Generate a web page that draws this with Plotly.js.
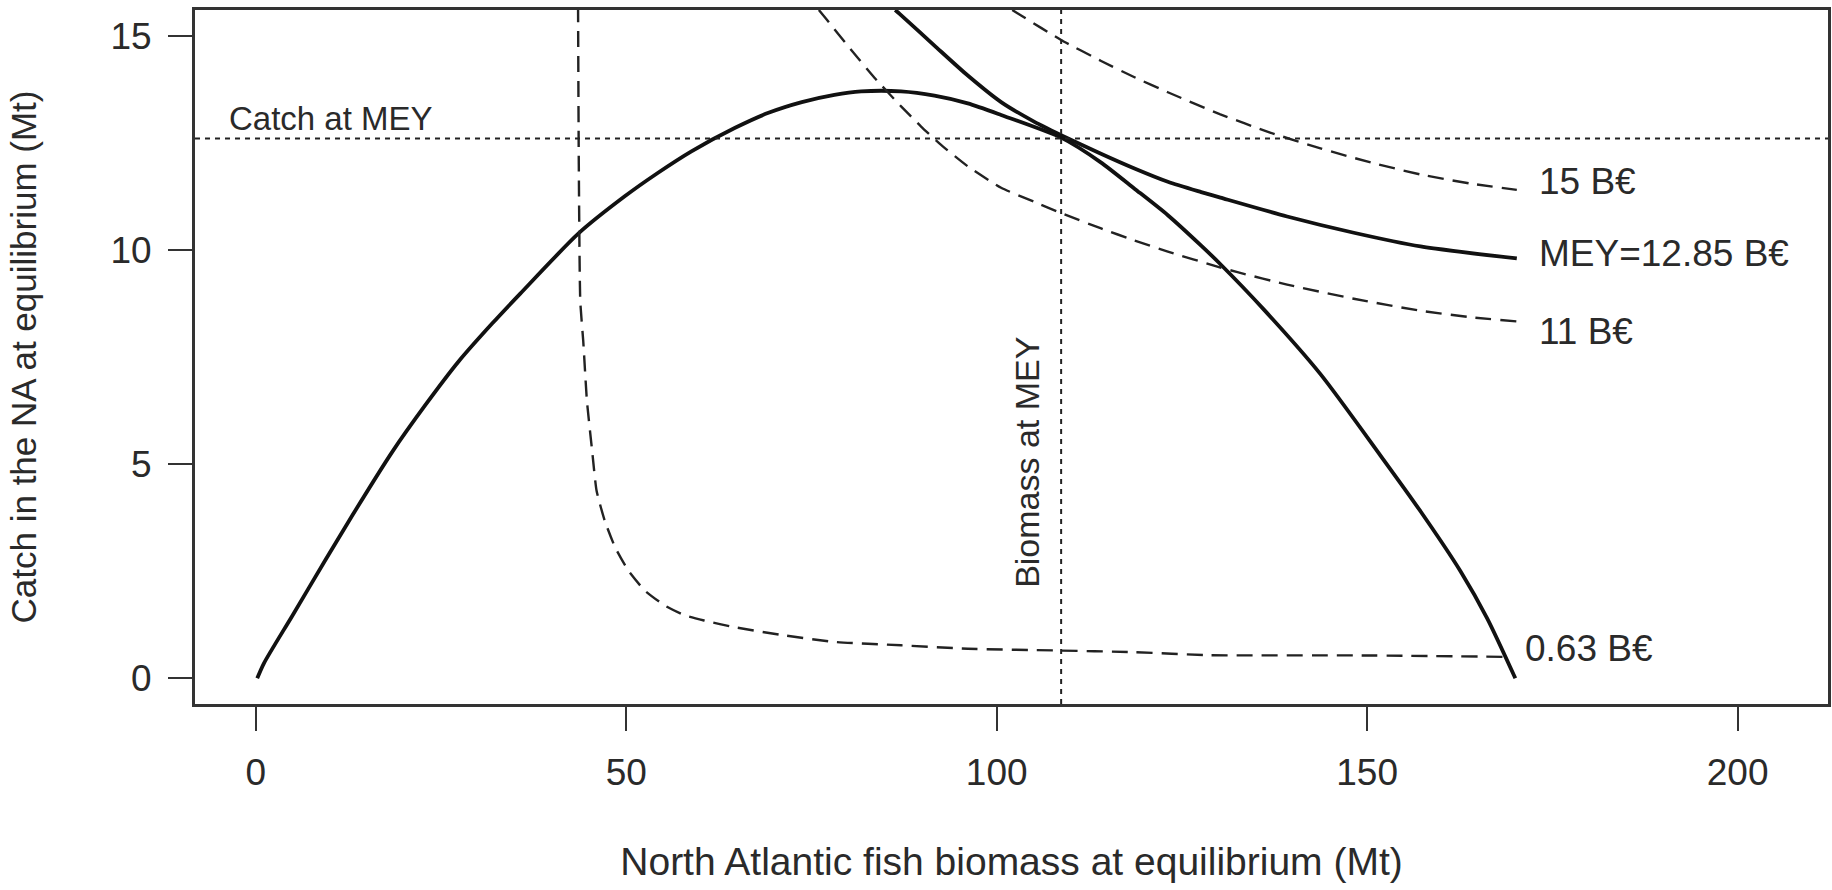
<!DOCTYPE html>
<html>
<head>
<meta charset="utf-8">
<script src="https://cdn.plot.ly/plotly-3.0.1.min.js"></script>
<style>html,body{margin:0;padding:0;background:#fff;}#chart{width:1832px;height:890px;}</style>
</head>
<body>
<div id="chart"></div>
<script>
// ---- Data ----
// Equilibrium catch curve (solid)
const eqBiomass = [0.2, 1.1, 4.9, 9.4, 12.6, 18.4, 22.9, 27.4, 31.9, 35.7, 43.6, 49.8, 54.3, 58.8, 64.7, 69.2, 73.7, 78.1, 81.7, 87.1, 91.6, 96.1, 100.6, 108.7, 114.0, 118.6, 123.1, 127.6, 130.0, 136.1, 143.7, 151.8, 157.2, 162.6, 166.2, 170.0];
const eqCatch   = [0, 0.35, 1.45, 2.76, 3.68, 5.28, 6.38, 7.40, 8.28, 8.98, 10.39, 11.25, 11.80, 12.30, 12.85, 13.20, 13.45, 13.62, 13.70, 13.70, 13.60, 13.42, 13.15, 12.62, 12.05, 11.43, 10.81, 10.1, 9.7, 8.6, 7.1, 5.2, 3.9, 2.5, 1.4, 0.0];

// Iso-profit curve at MEY (solid)
const meyBiomass = [86.3, 86.9, 91.6, 96.1, 100.6, 105.1, 108.7, 114.0, 118.6, 123.1, 127.6, 130.2, 139.2, 148.2, 157.2, 170.2];
const meyCatch   = [15.6, 15.51, 14.77, 14.07, 13.45, 12.99, 12.68, 12.25, 11.90, 11.59, 11.35, 11.22, 10.78, 10.40, 10.08, 9.80];

// Iso-profit 15 B€ (dashed)
const p15Biomass = [102.1, 103.3, 108.7, 114.1, 118.6, 123.1, 130.1, 136.9, 143.7, 150.5, 157.2, 163.9, 170.2];
const p15Catch   = [15.6, 15.47, 14.90, 14.41, 14.03, 13.68, 13.17, 12.74, 12.37, 12.04, 11.76, 11.55, 11.40];

// Iso-profit 11 B€ (dashed)
const p11Biomass = [76.0, 77.0, 80.4, 83.5, 87.1, 89.8, 92.5, 96.1, 100.6, 105.1, 108.7, 114.1, 118.6, 123.1, 130.0, 132.5, 139.2, 148.2, 157.2, 163.9, 170.2];
const p11Catch   = [15.6, 15.39, 14.66, 14.02, 13.35, 12.88, 12.45, 11.95, 11.45, 11.12, 10.86, 10.50, 10.22, 9.96, 9.60, 9.48, 9.19, 8.86, 8.58, 8.43, 8.33];

// Iso-profit 0.63 B€ (dashed)
const p063Biomass = [43.5, 43.6, 43.8, 44.2, 44.7, 45.4, 46.0, 47.1, 48.5, 50.3, 52.5, 55.2, 57.9, 60.5, 64.7, 71.4, 78.1, 87.1, 96.1, 107.8, 118.6, 128.5, 148.2, 168.9];
const p063Catch   = [15.7, 12.0, 8.80, 7.87, 6.47, 5.31, 4.38, 3.68, 3.06, 2.51, 2.05, 1.70, 1.47, 1.35, 1.19, 1.00, 0.85, 0.77, 0.69, 0.65, 0.61, 0.54, 0.535, 0.50];

// MEY reference values
const catchAtMEY = 12.6;
const biomassAtMEY = 108.7;

// Curve labels
const curveLabels = ["15 B€", "MEY=12.85 B€", "11 B€", "0.63 B€"];

// Axis ticks
const xTicks = [0, 50, 100, 150, 200];
const yTicks = [0, 5, 10, 15];

// ---- Drawing ----
const FONT = "'Liberation Sans', Arial, Helvetica, sans-serif";
const INK = "#111";
const TXT = "#2a2a2a";

const solid = {color: INK, width: 3.8, shape: "spline", smoothing: 0.7};
const dashed = {color: "#222", width: 2.4, dash: "16px,9px", shape: "spline", smoothing: 0.5};

const traces = [
  {x: eqBiomass, y: eqCatch, mode: "lines", line: solid, name: "equilibrium"},
  {x: meyBiomass, y: meyCatch, mode: "lines", line: solid, name: "MEY"},
  {x: p15Biomass, y: p15Catch, mode: "lines", line: dashed, name: "15"},
  {x: p11Biomass, y: p11Catch, mode: "lines", line: dashed, name: "11"},
  {x: p063Biomass, y: p063Catch, mode: "lines", line: dashed, name: "0.63"}
];

const ends = [
  [p15Biomass, p15Catch, 8],
  [meyBiomass, meyCatch, 5],
  [p11Biomass, p11Catch, -10],
  [p063Biomass, p063Catch, 8]
];

const annotations = ends.map((e, i) => ({
  x: e[0][e[0].length - 1], y: e[1][e[1].length - 1],
  text: curveLabels[i], showarrow: false, xanchor: "left", yanchor: "middle",
  xshift: i === 3 ? 16 : 20, yshift: e[2],
  font: {family: FONT, size: 37, color: TXT}
}));

annotations.push({
  x: -3.9, y: 13.06, text: "Catch at MEY", showarrow: false,
  xanchor: "left", yanchor: "middle", font: {family: FONT, size: 33, color: TXT}
});
annotations.push({
  x: 104.1, y: 5.03, text: "Biomass at MEY", showarrow: false, textangle: -90,
  xanchor: "center", yanchor: "middle", font: {family: FONT, size: 34, color: TXT}
});

const dotted = {color: "#222", width: 2, dash: "5px,5px"};

const layout = {
  width: 1832, height: 890,
  margin: {l: 195, r: 4, t: 10, b: 186},
  paper_bgcolor: "#fff", plot_bgcolor: "#fff",
  showlegend: false,
  font: {family: FONT, color: TXT},
  xaxis: {
    range: [-8.2, 212.2], tickvals: xTicks, ticktext: xTicks.map(String),
    ticks: "outside", ticklen: 24, tickwidth: 2, tickcolor: "#333",
    showline: true, mirror: true, linewidth: 3, linecolor: "#333",
    showgrid: false, zeroline: false,
    tickfont: {family: FONT, size: 37, color: TXT}, ticklabelstandoff: 10,
    title: {text: "North Atlantic fish biomass at equilibrium (Mt)", font: {family: FONT, size: 39, color: TXT}, standoff: 56}
  },
  yaxis: {
    range: [-0.6, 15.6], tickvals: yTicks, ticktext: yTicks.map(String),
    ticks: "outside", ticklen: 24, tickwidth: 2, tickcolor: "#333",
    showline: true, mirror: true, linewidth: 3, linecolor: "#333",
    showgrid: false, zeroline: false,
    tickfont: {family: FONT, size: 37, color: TXT}, ticklabelstandoff: 9,
    title: {text: "Catch in the NA at equilibrium (Mt)", font: {family: FONT, size: 35, color: TXT}, standoff: 64}
  },
  shapes: [
    {type: "line", xref: "paper", x0: 0, x1: 1, yref: "y", y0: catchAtMEY, y1: catchAtMEY, line: dotted},
    {type: "line", xref: "x", x0: biomassAtMEY, x1: biomassAtMEY, yref: "paper", y0: 0, y1: 1, line: dotted}
  ],
  annotations: annotations
};

Plotly.newPlot("chart", traces, layout, {displayModeBar: false, staticPlot: true});
</script>
</body>
</html>
